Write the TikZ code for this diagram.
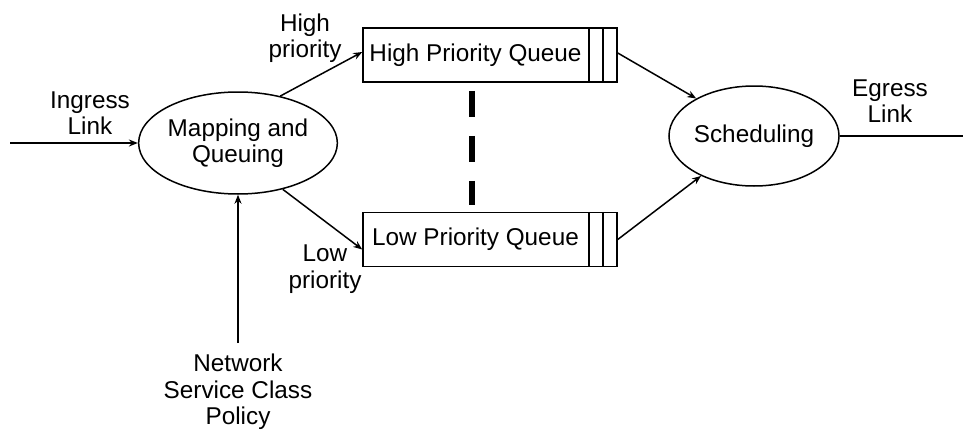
\documentclass[tikz,border=0pt]{standalone}
\usepackage{fontspec}
\setmainfont{Liberation Sans}
\usetikzlibrary{shapes,arrows.meta}
\tikzset{ell/.style={ellipse,draw,align=center,inner sep=0pt},
  queue/.style={rectangle,draw,minimum width=254pt,minimum height=54pt,inner sep=0pt},
  lbl/.style={align=center,inner sep=0pt}}

\begin{document}
\begin{tikzpicture}[x=1pt,y=-1pt,>={Stealth[length=9pt,width=7pt]},line width=1.5pt,
    font=\fontsize{24.3}{26.5}\selectfont]
        \useasboundingbox (0,0) rectangle (963,431);
        \node[ell,minimum width=162pt,minimum height=102pt] (map) at (238,143) {Mapping and\\Queuing};
        \node[ell,minimum width=152pt,minimum height=100pt] (sched) at (754,136) {Scheduling};
        \node[queue] (hq) at (490,55) {High Priority Queue\hspace{29pt}\null};
        \node[queue] (lq) at (490,239.5) {Low Priority Queue\hspace{29pt}\null};
        \node[lbl] (ing) at (90,113) {Ingress\\Link};
        \node[lbl] (egr) at (890,101) {Egress\\Link};
        \node[lbl] (hp) at (305,38) {High\\priority};
        \node[lbl] (lp) at (325,269) {Low\\priority};
        \node[lbl] (pol) at (238,392) {Network\\Service Class\\Policy};
        \coordinate (in) at (10,143);
        \coordinate (out) at (963,136);
        \coordinate (pin) at (238,343);

        % queue slots
        \draw ([xshift=-29pt]hq.north east) -- ([xshift=-29pt]hq.south east);
        \draw ([xshift=-15pt]hq.north east) -- ([xshift=-15pt]hq.south east);
        \draw ([xshift=-29pt]lq.north east) -- ([xshift=-29pt]lq.south east);
        \draw ([xshift=-15pt]lq.north east) -- ([xshift=-15pt]lq.south east);

        \draw [->] (in) -- (map);
        \draw [->] (pin) -- (map.south);
        \draw [->] (map.48) -- ([yshift=3pt]hq.west);
        \draw [->] (map.-46) -- ([yshift=-10pt]lq.west);
        \draw [->] ([yshift=2pt]hq.east) -- (sched.147);
        \draw [->] (lq.east) -- (sched.217);
        \draw [] (sched.east) -- (out);
        \draw [line width=6pt,dash pattern=on 26pt off 19pt] ([xshift=-18pt,yshift=-8pt]hq.south) -- ([xshift=-18pt,yshift=7pt]lq.north);
    \end{tikzpicture}
\end{document}
